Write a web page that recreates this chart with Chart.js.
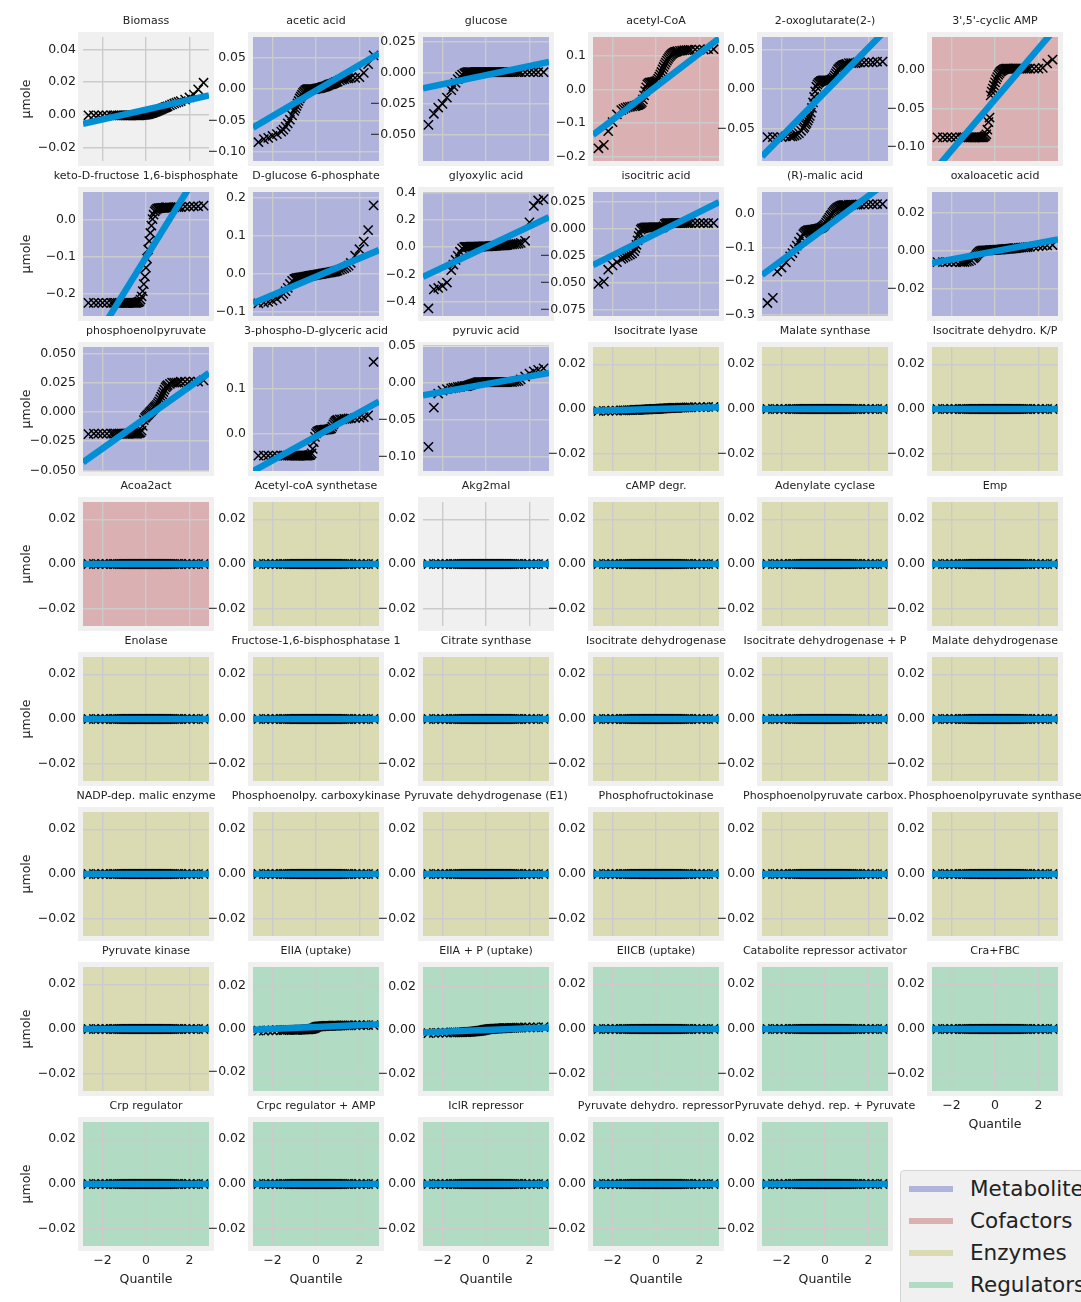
<!DOCTYPE html>
<html>
<head>
<meta charset="utf-8">
<title>Q-Q plots</title>
<script src="https://cdn.jsdelivr.net/npm/chart.js@4.4.1/dist/chart.umd.min.js"></script>
<style>
    html, body { margin: 0; padding: 0; background: #ffffff; overflow: hidden; }
    #fig { position: relative; width: 1081px; height: 1302px; overflow: hidden; }
    #fig canvas { position: absolute; }
    #legend {
        position: absolute; left: 900px; top: 1170px; width: 230px; height: 150px;
        background: #f0f0f0; border: 1px solid #d4d4d4; border-radius: 4px;
        font-family: 'DejaVu Sans', sans-serif; font-size: 21.5px; color: #222;
    }
    .entry { position: absolute; left: 0; height: 26px; line-height: 26px; width: 230px; }
    .swatch { position: absolute; left: 8px; top: 10px; width: 44px; height: 6px; }
    .label { position: absolute; left: 69px; top: 0; white-space: nowrap; }
</style>
</head>
<body>
<div id="fig"></div>

<script>
// ==================== DATA ====================

// theoretical normal quantiles on the x axis
const quantiles = [
    -2.65, -2.4, -2.2, -2.0, -1.8, -1.6, -1.5, -1.4, -1.3, -1.2, -1.1,
    -1.0, -0.95, -0.9, -0.85, -0.8, -0.75, -0.7, -0.65, -0.6, -0.55,
    -0.5, -0.45, -0.4, -0.35, -0.3, -0.25, -0.2, -0.15, -0.1, -0.05,
    0, 0.05, 0.1, 0.15, 0.2, 0.25, 0.3, 0.35, 0.4, 0.45, 0.5,
    0.55, 0.6, 0.65, 0.7, 0.75, 0.8, 0.85, 0.9, 0.95, 1.0,
    1.1, 1.2, 1.3, 1.4, 1.5, 1.6, 1.8, 2.0, 2.2, 2.4, 2.65
];
const xTicks = [-2, 0, 2];

// ordered sample values (µmole), one per quantile
const biomass = [
    -0.0004, -0.0004, -0.0004, -0.0004, -0.0004, -0.0004, -0.0004, -0.0004, -0.0004, -0.0004, -0.0004,
    -0.0004, -0.0004, -0.0004, -0.0004, -0.0004, -0.0004, -0.0004, -0.0004, -0.0004, -0.0004,
    -0.0004, -0.0004, -0.0004, -0.0004, -0.0004, -0.0003, -0.0003, -0.0002, -0.0002, -0.0001,
    0, 0.0001, 0.0003, 0.0005, 0.0007, 0.0009, 0.0011, 0.0013, 0.0016, 0.0018, 0.0021,
    0.0024, 0.0027, 0.0030, 0.0033, 0.0036, 0.0039, 0.0042, 0.0045, 0.0048, 0.0051,
    0.0057, 0.0063, 0.0068, 0.0073, 0.0078, 0.0083, 0.0092, 0.0105, 0.0122, 0.0155, 0.0195
];
const aceticAcid = [
    -0.085, -0.080, -0.078, -0.075, -0.072, -0.068, -0.065, -0.060, -0.055, -0.049, -0.042,
    -0.035, -0.031, -0.027, -0.023, -0.019, -0.015, -0.012, -0.009, -0.006, -0.004,
    -0.002, -0.001, 0, 0, 0, 0, 0, 0, 0, 0,
    0.0005, 0.001, 0.001, 0.0015, 0.002, 0.0025, 0.003, 0.0035, 0.004, 0.0045, 0.005,
    0.006, 0.007, 0.0075, 0.008, 0.0085, 0.009, 0.010, 0.011, 0.0115, 0.012,
    0.014, 0.015, 0.016, 0.017, 0.017, 0.018, 0.018, 0.019, 0.026, 0.040, 0.054
];
const glucose = [
    -0.042, -0.033, -0.028, -0.025, -0.020, -0.014, -0.011, -0.008, -0.005, -0.003, -0.0015,
    -0.0005, 0, 0.0003, 0.0005, 0.0005, 0.0005, 0.0005, 0.0005, 0.0005, 0.0005,
    0.0005, 0.0005, 0.0005, 0.0005, 0.0005, 0.0005, 0.0005, 0.0005, 0.0005, 0.0005,
    0.0005, 0.0005, 0.0005, 0.0005, 0.0005, 0.0005, 0.0005, 0.0005, 0.0005, 0.0005, 0.0005,
    0.0005, 0.0005, 0.0005, 0.0005, 0.0005, 0.0005, 0.0005, 0.0005, 0.0005, 0.0005,
    0.0005, 0.0005, 0.0005, 0.0005, 0.0005, 0.0005, 0.0005, 0.0005, 0.0005, 0.0005, 0.0005
];
const acetylCoA = [
    -0.176, -0.166, -0.125, -0.098, -0.075, -0.062, -0.058, -0.055, -0.053, -0.052, -0.051,
    -0.050, -0.049, -0.048, -0.047, -0.046, -0.044, -0.042, -0.038, -0.030, -0.018,
    -0.005, 0.006, 0.015, 0.018, 0.020, 0.0205, 0.021, 0.0215, 0.022, 0.023,
    0.024, 0.027, 0.032, 0.038, 0.045, 0.052, 0.060, 0.067, 0.074, 0.080, 0.086,
    0.091, 0.096, 0.100, 0.104, 0.107, 0.109, 0.111, 0.112, 0.113, 0.114,
    0.115, 0.116, 0.117, 0.117, 0.118, 0.118, 0.119, 0.119, 0.119, 0.120, 0.120
];
const oxoglutarate = [
    -0.061, -0.061, -0.061, -0.061, -0.060, -0.060, -0.060, -0.059, -0.058, -0.056, -0.053,
    -0.050, -0.048, -0.045, -0.043, -0.040, -0.037, -0.034, -0.030, -0.024, -0.017,
    -0.010, -0.003, 0.003, 0.006, 0.008, 0.009, 0.010, 0.0105, 0.011, 0.011,
    0.011, 0.011, 0.011, 0.011, 0.011, 0.0115, 0.012, 0.013, 0.015, 0.0175, 0.020,
    0.0225, 0.025, 0.0265, 0.028, 0.029, 0.030, 0.0305, 0.031, 0.0315, 0.032,
    0.033, 0.033, 0.033, 0.033, 0.034, 0.034, 0.034, 0.034, 0.034, 0.035, 0.035
];
const cyclicAmp = [
    -0.088, -0.088, -0.088, -0.088, -0.088, -0.088, -0.088, -0.088, -0.088, -0.088, -0.088,
    -0.088, -0.088, -0.088, -0.088, -0.088, -0.088, -0.088, -0.088, -0.088, -0.088,
    -0.087, -0.086, -0.084, -0.078, -0.068, -0.062, -0.033, -0.028, -0.024, -0.020,
    -0.016, -0.012, -0.009, -0.006, -0.004, -0.002, -0.001, 0, 0.001, 0.0015, 0.002,
    0.002, 0.002, 0.002, 0.002, 0.002, 0.002, 0.002, 0.002, 0.002, 0.002,
    0.002, 0.002, 0.002, 0.002, 0.002, 0.002, 0.002, 0.002, 0.003, 0.009, 0.014
];
const ketoFbp = [
    -0.226, -0.226, -0.226, -0.226, -0.226, -0.226, -0.226, -0.226, -0.226, -0.226, -0.226,
    -0.226, -0.226, -0.226, -0.226, -0.226, -0.226, -0.226, -0.226, -0.226, -0.226,
    -0.226, -0.226, -0.225, -0.224, -0.222, -0.217, -0.208, -0.194, -0.175, -0.154,
    -0.130, -0.105, -0.080, -0.057, -0.035, -0.015, 0.003, 0.015, 0.024, 0.028, 0.031,
    0.032, 0.033, 0.033, 0.034, 0.034, 0.034, 0.034, 0.035, 0.035, 0.035,
    0.035, 0.035, 0.035, 0.036, 0.036, 0.036, 0.037, 0.037, 0.038, 0.038, 0.040
];
const glucose6p = [
    -0.077, -0.075, -0.073, -0.070, -0.065, -0.058, -0.052, -0.045, -0.036, -0.026, -0.018,
    -0.013, -0.012, -0.011, -0.0105, -0.010, -0.0095, -0.009, -0.0085, -0.008, -0.0075,
    -0.007, -0.0065, -0.006, -0.0055, -0.005, -0.0045, -0.004, -0.0035, -0.003, -0.0025,
    -0.002, -0.0015, -0.001, -0.0005, 0, 0.0005, 0.001, 0.0015, 0.002, 0.0025, 0.003,
    0.0035, 0.004, 0.0045, 0.005, 0.0055, 0.006, 0.0065, 0.007, 0.008, 0.009,
    0.011, 0.013, 0.015, 0.018, 0.022, 0.029, 0.048, 0.065, 0.085, 0.115, 0.180
];
const glyoxylicAcid = [
    -0.450, -0.310, -0.300, -0.285, -0.260, -0.170, -0.130, -0.095, -0.065, -0.035, -0.010,
    0, 0.0005, 0.001, 0.001, 0.001, 0.0015, 0.002, 0.002, 0.002, 0.002,
    0.002, 0.0025, 0.003, 0.003, 0.003, 0.003, 0.003, 0.0035, 0.004, 0.004,
    0.004, 0.0045, 0.005, 0.0055, 0.006, 0.0065, 0.007, 0.0075, 0.008, 0.0085, 0.009,
    0.0095, 0.010, 0.0105, 0.011, 0.0115, 0.012, 0.0125, 0.013, 0.014, 0.015,
    0.017, 0.019, 0.021, 0.023, 0.025, 0.030, 0.045, 0.180, 0.300, 0.340, 0.350
];
const isocitricAcid = [
    -0.051, -0.049, -0.038, -0.034, -0.031, -0.028, -0.027, -0.026, -0.025, -0.024, -0.023,
    -0.021, -0.018, -0.015, -0.011, -0.007, -0.004, -0.001, 0, 0, 0.0005,
    0.001, 0.001, 0.001, 0.001, 0.001, 0.001, 0.001, 0.001, 0.001, 0.001,
    0.001, 0.001, 0.001, 0.001, 0.001, 0.001, 0.001, 0.002, 0.004, 0.0045, 0.005,
    0.005, 0.005, 0.005, 0.005, 0.005, 0.005, 0.005, 0.005, 0.005, 0.005,
    0.005, 0.005, 0.005, 0.005, 0.005, 0.005, 0.005, 0.005, 0.005, 0.005, 0.005
];
const malicAcid = [
    -0.265, -0.250, -0.172, -0.160, -0.145, -0.127, -0.117, -0.106, -0.095, -0.083, -0.071,
    -0.061, -0.057, -0.054, -0.052, -0.050, -0.0495, -0.049, -0.0485, -0.048, -0.0475,
    -0.047, -0.0465, -0.046, -0.0455, -0.045, -0.044, -0.043, -0.041, -0.039, -0.036,
    -0.032, -0.027, -0.022, -0.017, -0.012, -0.007, -0.003, 0.002, 0.006, 0.010, 0.013,
    0.016, 0.018, 0.020, 0.022, 0.023, 0.024, 0.0245, 0.025, 0.025, 0.025,
    0.026, 0.026, 0.026, 0.026, 0.026, 0.027, 0.027, 0.027, 0.027, 0.028, 0.028
];
const oxaloaceticAcid = [
    -0.006, -0.006, -0.006, -0.006, -0.006, -0.006, -0.006, -0.006, -0.0058, -0.0055, -0.005,
    -0.004, -0.0035, -0.003, -0.0022, -0.0015, -0.001, -0.0005, -0.0002, 0, 0.0001,
    0.0001, 0.0001, 0.0002, 0.0002, 0.0002, 0.0003, 0.0003, 0.0003, 0.0003, 0.0004,
    0.0004, 0.0004, 0.0005, 0.0005, 0.0006, 0.0006, 0.0007, 0.0007, 0.0008, 0.0008, 0.0009,
    0.0009, 0.001, 0.001, 0.0011, 0.0011, 0.0012, 0.0012, 0.0013, 0.0013, 0.0014,
    0.0015, 0.0016, 0.0017, 0.0018, 0.0019, 0.002, 0.0022, 0.0024, 0.0026, 0.0028, 0.003
];
const phosphoenolpyruvate = [
    -0.019, -0.0185, -0.0185, -0.0185, -0.0185, -0.0185, -0.0185, -0.0185, -0.0185, -0.0185, -0.0185,
    -0.0185, -0.0185, -0.0185, -0.0185, -0.0185, -0.0185, -0.0185, -0.0185, -0.0185, -0.0185,
    -0.0185, -0.0185, -0.0185, -0.018, -0.018, -0.0175, -0.016, -0.012, -0.007, -0.005,
    -0.004, -0.003, -0.002, -0.001, 0, 0.001, 0.002, 0.003, 0.004, 0.005, 0.006,
    0.0075, 0.009, 0.011, 0.013, 0.015, 0.017, 0.019, 0.021, 0.022, 0.023,
    0.024, 0.025, 0.025, 0.025, 0.025, 0.026, 0.026, 0.026, 0.026, 0.026, 0.027
];
const phosphoglycerate = [
    -0.050, -0.050, -0.050, -0.050, -0.050, -0.050, -0.050, -0.050, -0.050, -0.050, -0.050,
    -0.050, -0.050, -0.050, -0.050, -0.050, -0.050, -0.050, -0.050, -0.050, -0.050,
    -0.050, -0.050, -0.050, -0.0495, -0.049, -0.048, -0.045, -0.035, -0.020, -0.008,
    0, 0.003, 0.005, 0.006, 0.007, 0.007, 0.007, 0.0075, 0.008, 0.008, 0.008,
    0.0085, 0.009, 0.010, 0.011, 0.015, 0.020, 0.024, 0.027, 0.029, 0.030,
    0.031, 0.031, 0.032, 0.032, 0.033, 0.033, 0.034, 0.035, 0.036, 0.040, 0.159
];
const pyruvicAcid = [
    -0.087, -0.034, -0.015, -0.011, -0.009, -0.008, -0.007, -0.007, -0.006, -0.006, -0.005,
    -0.005, -0.005, -0.005, -0.0045, -0.004, -0.0035, -0.003, -0.0025, -0.002, -0.0015,
    -0.001, -0.0005, 0, 0.0005, 0.0005, 0.0005, 0.0005, 0.0005, 0.0005, 0.0005,
    0.0005, 0.0005, 0.0005, 0.0005, 0.0005, 0.0005, 0.0005, 0.0005, 0.0005, 0.0005, 0.0005,
    0.0005, 0.0005, 0.0005, 0.0005, 0.0005, 0.0005, 0.0005, 0.0005, 0.0005, 0.0005,
    0.0005, 0.0005, 0.001, 0.0015, 0.002, 0.004, 0.008, 0.012, 0.015, 0.017, 0.019
];
const isocitrateLyase = [
    -0.0009, -0.0008, -0.0008, -0.0007, -0.0007, -0.0006, -0.0006, -0.0006, -0.0005, -0.0005, -0.0005,
    -0.0004, -0.0004, -0.0004, -0.0004, -0.0004, -0.0003, -0.0003, -0.0003, -0.0003, -0.0003,
    -0.0002, -0.0002, -0.0002, -0.0002, -0.0001, -0.0001, -0.0001, -0.0001, 0, 0,
    0, 0, 0.0001, 0.0001, 0.0002, 0.0002, 0.0002, 0.0003, 0.0003, 0.0003, 0.0003,
    0.0004, 0.0004, 0.0004, 0.0004, 0.0005, 0.0005, 0.0005, 0.0005, 0.0005, 0.0005,
    0.0006, 0.0006, 0.0006, 0.0007, 0.0007, 0.0007, 0.0008, 0.0008, 0.0008, 0.0009, 0.0009
];
const eiiaUptake = [
    -0.001, -0.001, -0.0009, -0.0009, -0.0008, -0.0008, -0.0008, -0.0007, -0.0007, -0.0007, -0.0006,
    -0.0006, -0.0006, -0.0006, -0.0006, -0.0005, -0.0005, -0.0005, -0.0005, -0.0005, -0.0005,
    -0.0004, -0.0004, -0.0004, -0.0004, -0.0003, -0.0003, -0.0002, -0.0001, 0, 0.0003,
    0.0006, 0.0008, 0.0009, 0.001, 0.001, 0.001, 0.0011, 0.0011, 0.0011, 0.0012, 0.0012,
    0.0012, 0.0012, 0.0012, 0.0012, 0.0013, 0.0013, 0.0013, 0.0013, 0.0013, 0.0013,
    0.0013, 0.0014, 0.0014, 0.0014, 0.0014, 0.0014, 0.0015, 0.0015, 0.0015, 0.0016, 0.0016
];
const eiiaPUptake = [
    -0.0014, -0.0013, -0.0013, -0.0012, -0.0012, -0.0011, -0.0011, -0.0011, -0.001, -0.001, -0.001,
    -0.0009, -0.0009, -0.0009, -0.0008, -0.0008, -0.0008, -0.0008, -0.0007, -0.0007, -0.0006,
    -0.0006, -0.0005, -0.0005, -0.0004, -0.0004, -0.0003, -0.0002, -0.0001, 0, 0.0001,
    0.0002, 0.0003, 0.0004, 0.0004, 0.0005, 0.0005, 0.0006, 0.0006, 0.0007, 0.0007, 0.0007,
    0.0007, 0.0008, 0.0008, 0.0008, 0.0008, 0.0009, 0.0009, 0.0009, 0.0009, 0.0009,
    0.001, 0.001, 0.001, 0.0011, 0.0011, 0.0011, 0.0012, 0.0012, 0.0013, 0.0013, 0.0014
];
const zeros = [
    0, 0, 0, 0, 0, 0, 0, 0, 0, 0, 0,
    0, 0, 0, 0, 0, 0, 0, 0, 0, 0,
    0, 0, 0, 0, 0, 0, 0, 0, 0, 0,
    0, 0, 0, 0, 0, 0, 0, 0, 0, 0, 0,
    0, 0, 0, 0, 0, 0, 0, 0, 0, 0,
    0, 0, 0, 0, 0, 0, 0, 0, 0, 0, 0
];

// panel titles, row by row
const titles = [
    'Biomass', 'acetic acid', 'glucose', 'acetyl-CoA', '2-oxoglutarate(2-)', "3',5'-cyclic AMP",
    'keto-D-fructose 1,6-bisphosphate', 'D-glucose 6-phosphate', 'glyoxylic acid', 'isocitric acid', '(R)-malic acid', 'oxaloacetic acid',
    'phosphoenolpyruvate', '3-phospho-D-glyceric acid', 'pyruvic acid', 'Isocitrate lyase', 'Malate synthase', 'Isocitrate dehydro. K/P',
    'Acoa2act', 'Acetyl-coA synthetase', 'Akg2mal', 'cAMP degr.', 'Adenylate cyclase', 'Emp',
    'Enolase', 'Fructose-1,6-bisphosphatase 1', 'Citrate synthase', 'Isocitrate dehydrogenase', 'Isocitrate dehydrogenase + P', 'Malate dehydrogenase',
    'NADP-dep. malic enzyme', 'Phosphoenolpy. carboxykinase', 'Pyruvate dehydrogenase (E1)', 'Phosphofructokinase', 'Phosphoenolpyruvate carbox.', 'Phosphoenolpyruvate synthase',
    'Pyruvate kinase', 'EIIA (uptake)', 'EIIA + P (uptake)', 'EIICB (uptake)', 'Catabolite repressor activator', 'Cra+FBC',
    'Crp regulator', 'Crpc regulator + AMP', 'IclR repressor', 'Pyruvate dehydro. repressor', 'Pyruvate dehyd. rep. + Pyruvate'
];

// category of each panel: B = none, M = metabolite, C = cofactor, E = enzyme, R = regulator
const groups = [
    'B', 'M', 'M', 'C', 'M', 'C',
    'M', 'M', 'M', 'M', 'M', 'M',
    'M', 'M', 'M', 'E', 'E', 'E',
    'C', 'E', 'B', 'E', 'E', 'E',
    'E', 'E', 'E', 'E', 'E', 'E',
    'E', 'E', 'E', 'E', 'E', 'E',
    'E', 'R', 'R', 'R', 'R', 'R',
    'R', 'R', 'R', 'R', 'R'
];

const samples = [
    biomass, aceticAcid, glucose, acetylCoA, oxoglutarate, cyclicAmp,
    ketoFbp, glucose6p, glyoxylicAcid, isocitricAcid, malicAcid, oxaloaceticAcid,
    phosphoenolpyruvate, phosphoglycerate, pyruvicAcid, isocitrateLyase, zeros, zeros,
    zeros, zeros, zeros, zeros, zeros, zeros,
    zeros, zeros, zeros, zeros, zeros, zeros,
    zeros, zeros, zeros, zeros, zeros, zeros,
    zeros, eiiaUptake, eiiaPUptake, zeros, zeros, zeros,
    zeros, zeros, zeros, zeros, zeros
];

// least squares fit lines
const fitSlope = [
    0.0030, 0.0204, 0.00367, 0.0497, 0.0282, 0.0334,
    0.096, 0.024, 0.0752, 0.010, 0.0478, 0.00217,
    0.01317, 0.0268, 0.00524, 0.00026, 0, 0,
    0, 0, 0, 0, 0, 0,
    0, 0, 0, 0, 0, 0,
    0, 0, 0, 0, 0, 0,
    0, 0.00045, 0.0004, 0, 0, 0,
    0, 0, 0, 0, 0
];
const fitIntercept = [
    0.0031, -0.0024, -0.0019, 0.008, -0.0039, -0.0383,
    -0.1016, -0.0069, 0, -0.0047, -0.0434, -0.0003,
    -0.0049, -0.007, -0.0023, 0, 0, 0,
    0, 0, 0, 0, 0, 0,
    0, 0, 0, 0, 0, 0,
    0, 0, 0, 0, 0, 0,
    0, 0.0007, 0, 0, 0, 0,
    0, 0, 0, 0, 0
];

// y limits and tick labels
const flatLimits = [-0.0277, 0.0277];
const flatTicks = [0.02, 0, -0.02];
const yLimits = [
    [-0.0284, 0.0475], [-0.115, 0.0833], [-0.0711, 0.0289], [-0.214, 0.1565], [-0.0914, 0.0662], [-0.119, 0.0435],
    [-0.262, 0.0771], [-0.110, 0.215], [-0.505, 0.402], [-0.0806, 0.0336], [-0.3035, 0.0637], [-0.0345, 0.031],
    [-0.0505, 0.0555], [-0.0842, 0.1924], [-0.1195, 0.0478], flatLimits, flatLimits, flatLimits,
    flatLimits, flatLimits, flatLimits, flatLimits, flatLimits, flatLimits,
    flatLimits, flatLimits, flatLimits, flatLimits, flatLimits, flatLimits,
    flatLimits, flatLimits, flatLimits, flatLimits, flatLimits, flatLimits,
    flatLimits, [-0.029, 0.0285], [-0.028, 0.029], flatLimits, flatLimits, flatLimits,
    flatLimits, flatLimits, flatLimits, flatLimits, flatLimits
];
const yTicks = [
    [0.04, 0.02, 0, -0.02], [0.05, 0, -0.05, -0.1], [0.025, 0, -0.025, -0.05], [0.1, 0, -0.1, -0.2], [0.05, 0, -0.05], [0, -0.05, -0.1],
    [0, -0.1, -0.2], [0.2, 0.1, 0, -0.1], [0.4, 0.2, 0, -0.2, -0.4], [0.025, 0, -0.025, -0.05, -0.075], [0, -0.1, -0.2, -0.3], [0.02, 0, -0.02],
    [0.05, 0.025, 0, -0.025, -0.05], [0.1, 0], [0.05, 0, -0.05, -0.1], flatTicks, flatTicks, flatTicks,
    flatTicks, flatTicks, flatTicks, flatTicks, flatTicks, flatTicks,
    flatTicks, flatTicks, flatTicks, flatTicks, flatTicks, flatTicks,
    flatTicks, flatTicks, flatTicks, flatTicks, flatTicks, flatTicks,
    flatTicks, flatTicks, flatTicks, flatTicks, flatTicks, flatTicks,
    flatTicks, flatTicks, flatTicks, flatTicks, flatTicks
];
const yDigits = [
    2, 2, 3, 1, 2, 2,
    1, 1, 1, 3, 1, 2,
    3, 1, 2, 2, 2, 2,
    2, 2, 2, 2, 2, 2,
    2, 2, 2, 2, 2, 2,
    2, 2, 2, 2, 2, 2,
    2, 2, 2, 2, 2, 2,
    2, 2, 2, 2, 2
];

// panels that carry the "Quantile" axis
const xLabelled = [41, 42, 43, 44, 45, 46];

const groupNames = ['Metabolites', 'Cofactors', 'Enzymes', 'Regulators'];
const groupKeys = ['M', 'C', 'E', 'R'];
const groupColors = { B: '#f0f0f0', M: '#b0b3dc', C: '#dab0b2', E: '#dadbb3', R: '#b1dbc2' };

// ==================== LAYOUT ====================

const NCOLS = 6;
const colLeft = [83, 253, 423, 593, 762, 932];
const rowTop = [37, 192, 347, 502, 657, 812, 967, 1122];
const innerW = 126, innerH = 124;
const padSide = 100, padTop = 32, padBottom = 45;
const X_MIN = -2.9, X_MAX = 2.9;

const FONT = 'DejaVu Sans';
const TEXT = '#222222';

function fmt(v, digits) {
    return v.toFixed(digits).replace('-', '\u2212');
}

// grey frame and coloured face behind each panel
const panelBackground = {
    id: 'panelBackground',
    beforeDraw(chart, args, opts) {
        const { ctx, chartArea: a } = chart;
        ctx.save();
        ctx.fillStyle = '#f0f0f0';
        ctx.fillRect(a.left - 5, a.top - 5, a.right - a.left + 10, a.bottom - a.top + 10);
        ctx.fillStyle = opts.color;
        ctx.fillRect(a.left, a.top, a.right - a.left, a.bottom - a.top);
        ctx.restore();
    }
};

// ==================== CHARTS ====================

function makePanel(i) {
    const r = Math.floor(i / NCOLS);
    const c = i % NCOLS;
    const canvas = document.createElement('canvas');
    canvas.width = padSide * 2 + innerW;
    canvas.height = padTop + innerH + padBottom;
    canvas.style.left = (colLeft[c] - padSide) + 'px';
    canvas.style.top = (rowTop[r] - padTop) + 'px';
    document.getElementById('fig').appendChild(canvas);

    const points = quantiles.map((q, k) => ({ x: q, y: samples[i][k] }));
    const fit = [X_MIN, X_MAX].map(x => ({ x: x, y: fitIntercept[i] + fitSlope[i] * x }));
    const showX = xLabelled.includes(i);
    const gridOpts = { color: '#cbcbcb', lineWidth: 1.4, drawTicks: false };

    new Chart(canvas, {
        type: 'scatter',
        data: {
            datasets: [
                {
                    type: 'line',
                    data: fit,
                    borderColor: '#008fd5',
                    borderWidth: 6.5,
                    pointRadius: 0,
                    fill: false,
                    clip: 0,
                    order: 0
                },
                {
                    data: points,
                    pointStyle: 'crossRot',
                    pointRadius: 6.5,
                    borderColor: '#000000',
                    backgroundColor: 'rgba(0,0,0,0)',
                    borderWidth: 1.5,
                    clip: 0,
                    order: 1
                }
            ]
        },
        options: {
            responsive: false,
            animation: false,
            devicePixelRatio: 1,
            layout: { padding: 0 },
            events: [],
            plugins: {
                legend: { display: false },
                tooltip: { enabled: false },
                title: {
                    display: true,
                    text: titles[i],
                    color: TEXT,
                    font: { family: FONT, size: 11, weight: 'normal', lineHeight: 1.2 },
                    padding: { top: 9.7, bottom: 9.1 }
                },
                panelBackground: { color: groupColors[groups[i]] }
            },
            scales: {
                x: {
                    type: 'linear',
                    min: X_MIN,
                    max: X_MAX,
                    afterBuildTicks: axis => { axis.ticks = xTicks.map(v => ({ value: v })); },
                    afterFit: axis => { axis.height = padBottom; },
                    grid: gridOpts,
                    border: { display: false },
                    ticks: {
                        display: showX,
                        padding: 7,
                        color: TEXT,
                        font: { family: FONT, size: 12.5 },
                        callback: v => fmt(v, 0)
                    },
                    title: {
                        display: showX,
                        text: 'Quantile',
                        color: TEXT,
                        font: { family: FONT, size: 12.5, lineHeight: 1.2 },
                        padding: { top: 0, bottom: 3.5 }
                    }
                },
                y: {
                    type: 'linear',
                    position: 'left',
                    min: yLimits[i][0],
                    max: yLimits[i][1],
                    afterBuildTicks: axis => { axis.ticks = yTicks[i].map(v => ({ value: v })); },
                    afterFit: axis => { axis.width = padSide; },
                    grid: gridOpts,
                    border: { display: false },
                    ticks: {
                        autoSkip: false,
                        padding: 7,
                        color: TEXT,
                        font: { family: FONT, size: 12.5 },
                        callback: v => fmt(v, yDigits[i])
                    },
                    title: {
                        display: c === 0,
                        text: 'µmole',
                        color: TEXT,
                        font: { family: FONT, size: 12.5, lineHeight: 1.2 },
                        padding: { top: 36.7, bottom: 0 }
                    }
                },
                // empty right-hand spacer so the title stays centred on the panel
                spacer: {
                    type: 'linear',
                    position: 'right',
                    display: true,
                    afterFit: axis => { axis.width = padSide; },
                    grid: { display: false },
                    border: { display: false },
                    ticks: { display: false }
                }
            }
        },
        plugins: [panelBackground]
    });
}

document.addEventListener('DOMContentLoaded', () => {
    for (let i = 0; i < titles.length; i++) {
        makePanel(i);
    }

    // figure legend
    const legend = document.createElement('div');
    legend.id = 'legend';
    const centres = [17.7, 50, 82.3, 114];
    groupNames.forEach((name, k) => {
        const entry = document.createElement('div');
        entry.className = 'entry';
        entry.style.top = (centres[k] - 13) + 'px';
        const swatch = document.createElement('div');
        swatch.className = 'swatch';
        swatch.style.background = groupColors[groupKeys[k]];
        const label = document.createElement('div');
        label.className = 'label';
        label.textContent = name;
        entry.appendChild(swatch);
        entry.appendChild(label);
        legend.appendChild(entry);
    });
    document.getElementById('fig').appendChild(legend);
});
</script>
</body>
</html>
